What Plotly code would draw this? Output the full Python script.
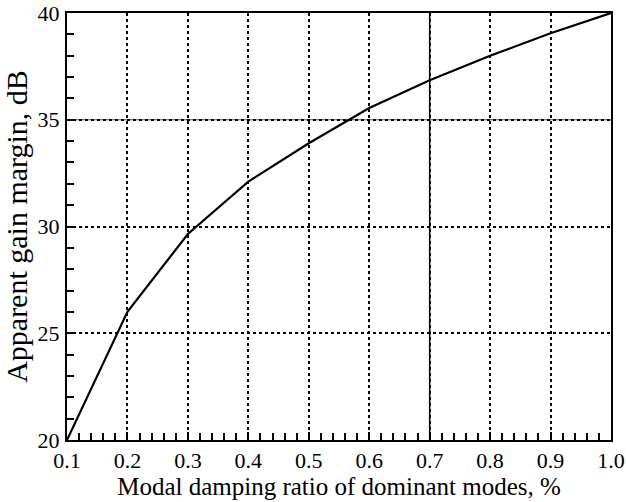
import plotly.graph_objects as go

damping = [0.1, 0.2, 0.3, 0.4, 0.5, 0.6, 0.7, 0.8, 0.9, 1.0]
gain_margin = [20.0, 26.0, 29.65, 32.1, 33.9, 35.55, 36.85, 38.0, 39.05, 40.0]
x_ticks = [0.1, 0.2, 0.3, 0.4, 0.5, 0.6, 0.7, 0.8, 0.9, 1.0]
x_tick_labels = ["0.1", "0.2", "0.3", "0.4", "0.5", "0.6", "0.7", "0.8", "0.9", "1.0"]
y_ticks = [20, 25, 30, 35, 40]
solid_x_grid = [0.7]
solid_y_grid = [35]

font = "Liberation Serif"

fig = go.Figure()
fig.add_trace(go.Scatter(x=damping, y=gain_margin, mode="lines",
                         line=dict(color="black", width=2.2), showlegend=False))

shapes = []
for xv in solid_x_grid:
    shapes.append(dict(type="line", xref="x", yref="paper", x0=xv, x1=xv, y0=0, y1=1,
                       line=dict(color="black", width=1.5), layer="below"))
for yv in solid_y_grid:
    shapes.append(dict(type="line", xref="paper", yref="y", x0=0, x1=1, y0=yv, y1=yv,
                       line=dict(color="#555555", width=1.2), layer="below"))

fig.update_layout(
    width=626, height=502,
    margin=dict(l=67, r=15, t=13, b=62),
    paper_bgcolor="white", plot_bgcolor="white",
    font=dict(family=font, color="black"),
    shapes=shapes,
    xaxis=dict(
        range=[0.1, 1.0], tickvals=x_ticks, ticktext=x_tick_labels,
        showline=True, linecolor="black", linewidth=2, mirror=True,
        ticks="inside", ticklen=8, tickcolor="black", tickwidth=2,
        minor=dict(dtick=0.02, tick0=0.1, ticks="inside", ticklen=7,
                   tickcolor="black", tickwidth=2, showgrid=False),
        showgrid=True, gridcolor="black", griddash="dot", gridwidth=1.5,
        zeroline=False, layer="above traces",
        ticklabeloverflow="allow", automargin=False,
        tickfont=dict(family=font, size=22, color="black"),
        title=dict(text="Modal damping ratio of dominant modes, %",
                   font=dict(family=font, size=25, color="black"), standoff=4),
    ),
    yaxis=dict(
        range=[20, 40], tickvals=y_ticks,
        showline=True, linecolor="black", linewidth=2, mirror=True,
        ticks="inside", ticklen=8, tickcolor="black", tickwidth=2,
        minor=dict(dtick=1, ticks="inside", ticklen=7,
                   tickcolor="black", tickwidth=2, showgrid=False),
        showgrid=True, gridcolor="black", griddash="dot", gridwidth=1.5,
        zeroline=False, layer="above traces", automargin=False,
        ticklabelstandoff=1,
        tickfont=dict(family=font, size=22, color="black"),
        title=dict(text="Apparent gain margin, dB",
                   font=dict(family=font, size=30, color="black"), standoff=2),
    ),
)

fig.write_html("out.html")
